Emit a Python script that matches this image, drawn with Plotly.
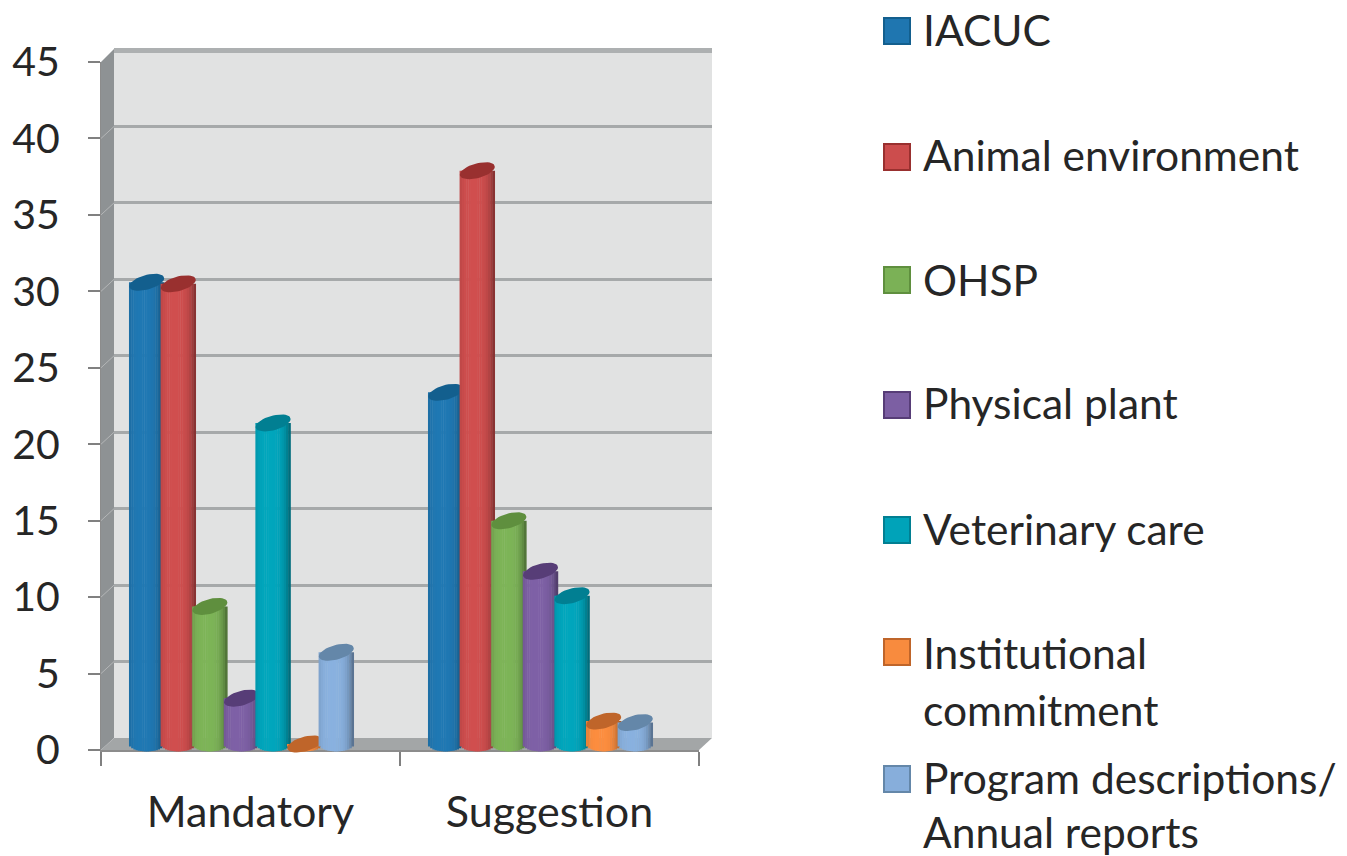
import math
import plotly.graph_objects as go

categories = ["Mandatory", "Suggestion"]
series_names = ["IACUC", "Animal environment", "OHSP", "Physical plant",
                "Veterinary care", "Institutional commitment",
                "Program descriptions/ Annual reports"]
iacuc = [30.2, 23]
animal_environment = [30.1, 37.5]
ohsp = [9, 14.6]
physical_plant = [3, 11.3]
veterinary_care = [21, 9.7]
institutional_commitment = [0, 1.5]
program_descriptions = [6, 1.4]
y_ticks = [0, 5, 10, 15, 20, 25, 30, 35, 40, 45]
series_values = [iacuc, animal_environment, ohsp, physical_plant,
                 veterinary_care, institutional_commitment, program_descriptions]
body_colors = ["#1f76b0", "#cc4d4d", "#7bb156", "#7c5fa3", "#00a3b9", "#f88b3e", "#87aedb"]
cap_colors = ["#135f8e", "#99302f", "#5f8f3e", "#573d77", "#017f92", "#bf652a", "#6487a9"]
legend_lines = [[("IACUC", 29)], [("Animal environment", 154)], [("OHSP", 279)],
                [("Physical plant", 403)], [("Veterinary care", 528)],
                [("Institutional", 652), ("commitment", 709)],
                [("Program descriptions/", 777), ("Annual reports", 831)]]
legend_swatch_y = [31, 157, 280, 405, 530, 652, 779]

W, H = 1347, 856
FONT = "Lato, 'Open Sans', sans-serif"
TEXT = "#262626"
px = lambda v: v / W
py = lambda v: 1 - v / H


def shade(hexcol, f):
    r, g, b = (int(hexcol[i:i + 2], 16) for i in (1, 3, 5))
    return "rgb(%d,%d,%d)" % (min(255, r * f), min(255, g * f), min(255, b * f))


fig = go.Figure()
layout = dict(
    template="none",
    width=W, height=H, margin=dict(l=0, r=0, t=0, b=0), showlegend=False,
    paper_bgcolor="white", plot_bgcolor="rgba(0,0,0,0)", barmode="overlay",
    font=dict(family=FONT, color=TEXT),
)

# back wall gridlines
layout["xaxis"] = dict(domain=[px(114), px(712)], range=[0, 1], visible=False)
layout["yaxis"] = dict(domain=[py(738), py(50)], range=[0, 45], anchor="x",
                       tickvals=y_ticks, showgrid=True, gridcolor="#a6a9aa", gridwidth=2.5,
                       showticklabels=False, ticks="", showline=False, zeroline=False)
fig.add_trace(go.Scatter(x=[0, 1], y=[None, None], xaxis="x", yaxis="y", hoverinfo="skip"))

# front axes (ticks and labels)
layout["xaxis2"] = dict(domain=[px(101), px(699)], anchor="y2", type="category",
                        categoryorder="array", categoryarray=categories,
                        range=[-0.5, 1.5], tickson="boundaries", ticks="outside",
                        ticklen=14, tickwidth=2, tickcolor="#808080", showline=True,
                        linecolor="#8c8c8c", linewidth=2, showgrid=False,
                        tickfont=dict(size=43, family=FONT, color=TEXT),
                        ticklabelstandoff=23)
layout["yaxis2"] = dict(domain=[py(750), py(62)], anchor="x2", range=[0, 45],
                        tickvals=y_ticks, ticks="outside", ticklen=12, tickwidth=2,
                        tickcolor="#808080", showline=True, linecolor="#8c8c8c",
                        linewidth=1, showgrid=False, zeroline=False,
                        tickfont=dict(size=41, family=FONT, color=TEXT),
                        ticklabelstandoff=20)
fig.add_trace(go.Scatter(x=categories, y=[None, None], xaxis="x2", yaxis="y2", hoverinfo="skip"))

# cylinders: one overlapping subplot per series so later ones sit on earlier ones
PX_X = 299.0                       # pixels per category
PX_Y = 688 / 45.0                  # pixels per y unit
STEP = 31.6 / PX_X
HW = 17.5 / PX_X
B, TILT = 7.5, 4.0
N = 16
left = -(241.5 - 101) / PX_X
for k, vals in enumerate(series_values):
    idx = k + 3
    xa, ya = f"x{idx}", f"y{idx}"
    layout[f"xaxis{idx}"] = dict(domain=[px(101), px(699)], range=[left, left + 2],
                                 anchor=ya, visible=False)
    layout[f"yaxis{idx}"] = dict(domain=[py(744 + PX_Y), py(56)], range=[-1, 45],
                                 anchor=xa, visible=False)
    xs, heights, bases, colors, capx, capy = [], [], [], [], [], []
    for c, v in enumerate(vals):
        cx = c + (k - 3) * STEP
        for i in range(N):
            u = (i + 0.5) / N * 2 - 1
            base = -B / PX_Y * math.sqrt(max(0, 1 - u * u))
            xs.append(cx + u * HW)
            bases.append(base)
            heights.append(v - base)
            d = abs(u + 0.2) / 1.2
            colors.append(shade(body_colors[k], 1.02 - 0.42 * d ** 3.5))
        for j in range(41):
            t = 2 * math.pi * j / 40
            capx.append(cx + HW * math.cos(t))
            capy.append(v + (B * math.sin(t) + TILT * math.cos(t)) / PX_Y)
        capx.append(None)
        capy.append(None)
    fig.add_trace(go.Bar(x=xs, y=heights, base=bases, width=2 * HW / N * 1.2,
                         marker=dict(color=colors, line=dict(width=0)),
                         name=series_names[k], xaxis=xa, yaxis=ya, hoverinfo="skip"))
    fig.add_trace(go.Scatter(x=capx, y=capy, mode="lines", fill="toself",
                             fillcolor=cap_colors[k], line=dict(width=0, color=cap_colors[k]),
                             xaxis=xa, yaxis=ya, hoverinfo="skip"))

# chart walls
def poly(points, color):
    path = "M " + " L ".join(f"{px(a)} {py(b)}" for a, b in points) + " Z"
    return dict(type="path", xref="paper", yref="paper", path=path, fillcolor=color,
                line=dict(width=0), layer="below")


shapes = [
    poly([(114, 48), (712, 48), (712, 738), (114, 738)], "#e1e2e2"),
    poly([(114, 48), (712, 48), (712, 53), (114, 53)], "#adb0b1"),
    poly([(101, 62), (114, 49), (114, 738), (101, 750)], "#8e9294"),
    poly([(101, 750), (114, 738), (712, 738), (699, 750)], "#a3a6a7"),
]
for tick in y_ticks[1:-1]:
    yf = 750 - tick * 688 / 45
    shapes.append(dict(type="line", xref="paper", yref="paper", layer="below",
                       x0=px(101), x1=px(114), y0=py(yf), y1=py(yf - 12),
                       line=dict(color="#b4b6b7", width=1)))

# legend
annotations = []
for k, lines in enumerate(legend_lines):
    yc = legend_swatch_y[k]
    shapes.append(dict(type="rect", xref="paper", yref="paper", layer="above",
                       x0=px(884), x1=px(910), y0=py(yc - 13), y1=py(yc + 13),
                       fillcolor=body_colors[k], line=dict(color=cap_colors[k], width=2)))
    for text, yt in lines:
        annotations.append(dict(text=text, xref="paper", yref="paper", x=px(921), y=py(yt),
                                xanchor="left", yanchor="middle", showarrow=False,
                                font=dict(size=42.5, family=FONT, color=TEXT)))

layout["shapes"] = shapes
layout["annotations"] = annotations
fig.update_layout(**layout)
fig.write_html("out.html", config=dict(displayModeBar=False),
               post_script="document.body.style.margin='0';document.body.style.fontVariantLigatures='none';")
